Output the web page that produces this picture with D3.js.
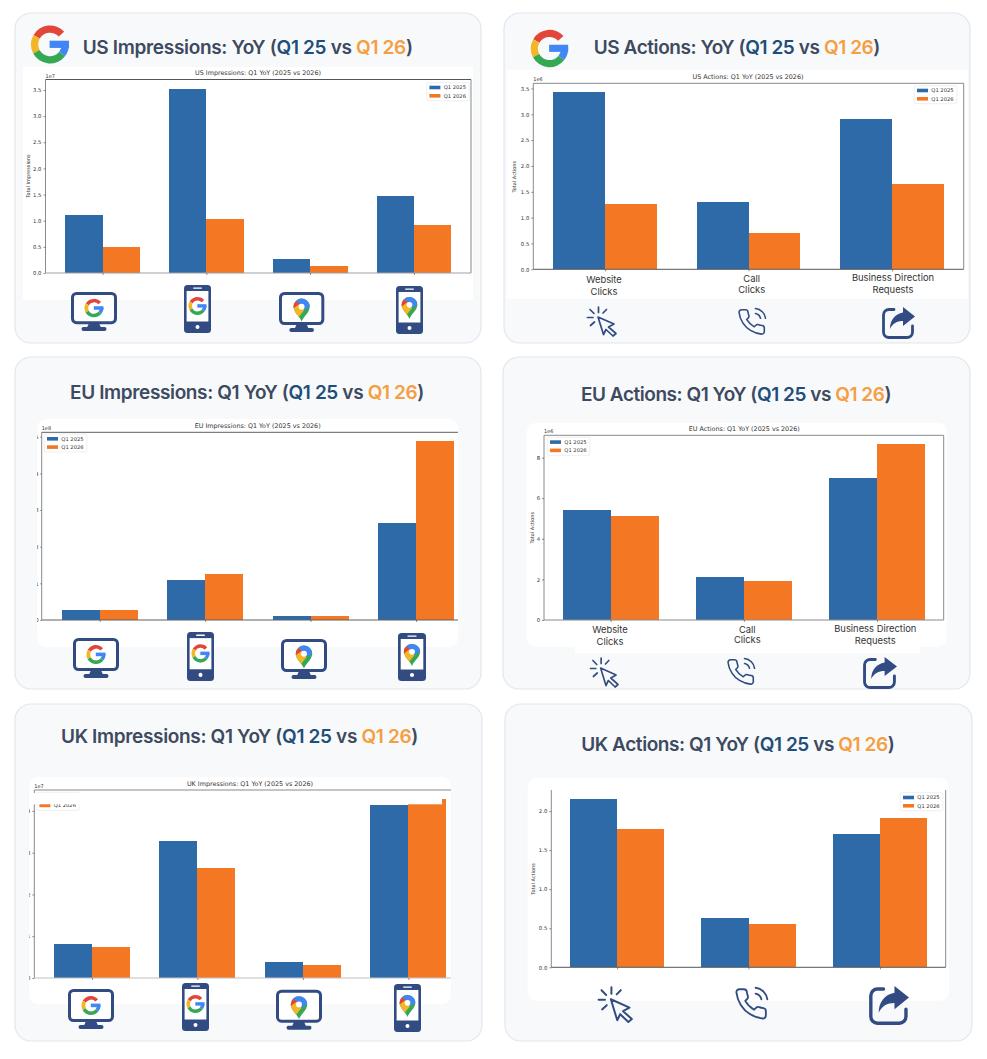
<!DOCTYPE html>
<html><head><meta charset="utf-8">
<script src="https://cdn.jsdelivr.net/npm/d3@7"></script>
<style>html,body{margin:0;padding:0;background:#fff}svg{display:block}</style>
</head><body><svg id="c" width="987" height="1059"></svg>
<script>
// ---- data ----
const seriesNames = ["Q1 2025", "Q1 2026"];
const impressionCategories = ["Desktop Search", "Mobile Search", "Desktop Maps", "Mobile Maps"];
const actionCategories = ["Website Clicks", "Call Clicks", "Business Direction Requests"];
const actionLabels = [["Website", "Clicks"], ["Call", "Clicks"], ["Business Direction", "Requests"]];

const usImp2025 = [1.10e7, 3.52e7, 0.274e7, 1.465e7];
const usImp2026 = [0.49e7, 1.026e7, 0.14e7, 0.925e7];
const usAct2025 = [3.44e6, 1.30e6, 2.91e6];
const usAct2026 = [1.27e6, 0.696e6, 1.645e6];
const euImp2025 = [0.27e8, 1.10e8, 0.11e8, 2.64e8];
const euImp2026 = [0.26e8, 1.25e8, 0.10e8, 4.88e8];
const euAct2025 = [5.44e6, 2.10e6, 6.98e6];
const euAct2026 = [5.12e6, 1.94e6, 8.67e6];
const ukImp2025 = [0.806e7, 3.28e7, 0.383e7, 4.135e7];
const ukImp2026 = [0.742e7, 2.635e7, 0.311e7, 4.29e7];
const ukAct2025 = [2.16e6, 0.637e6, 1.705e6];
const ukAct2026 = [1.77e6, 0.55e6, 1.914e6];

const usImpTicks = [0, .5, 1, 1.5, 2, 2.5, 3, 3.5];
const usActTicks = [0, .5, 1, 1.5, 2, 2.5, 3, 3.5];
const euImpTicks = [0, 1, 2, 3, 4, 5];
const euActTicks = [0, 2, 4, 6, 8];
const ukImpTicks = [0, 1, 2, 3, 4];
const ukActTicks = [0, .5, 1, 1.5, 2];

// ---- styles ----
const BLUE = "#2e6aa7", ORANGE = "#f47724", NAVY = "#324b82";
const INK = "#3d4a5f", Q25 = "#1f4e79", Q26 = "#f59e42";

// ---- layouts ----
const panels = [
 {card:[15,13,466,330], head:["US Impressions: YoY (", 82.7, 412.7, 54], white:[23,67,450,233,0],
  plot:[45.5,471,79.5,273], pad:.55, yMax:3.70, unit:1e7, off:"1e7", dec:1, ticks:usImpTicks,
  a:usImp2025, b:usImp2026, cats:impressionCategories, title:"US Impressions: Q1 YoY (2025 vs 2026)", titleAt:[258,73],
  ylabel:"Total Impressions", ylabelAt:[28.3,176], legend:[426.7,82.7], spines:"tlrb", tick:[2,2], topC:"#555", botC:"#a0a0a0",
  logo:[50,44.5,19],
  icons:[["mg",71,292,117,331],["pg",184,285,211,333],["mm",279,292,324.3,332],["pm",396,286,423,334]]},
 {card:[504,13,466,330], head:["US Actions: YoY (", 593.7, 880, 54], white:[507,70,461,229,0],
  plot:[533.3,963.7,83.3,269.3], pad:.5, yMax:3.6, unit:1e6, off:"1e6", dec:1, ticks:usActTicks,
  a:usAct2025, b:usAct2026, cats:actionCategories, title:"US Actions: Q1 YoY (2025 vs 2026)", titleAt:[748,77],
  ylabel:"Total Actions", ylabelAt:[514,176.7], legend:[914.3,85.7], spines:"tlrb", tick:[2,2], topC:"#8a8a8a", botC:"#555",
  labels:[[604,280,292],[751.7,279,290],[893,278,290]], logo:[549.5,48.5,18.7],
  icons:[["click",587,306,617,336],["call",737,308,767,337],["share",882,307,915,339]]},
 {card:[15,357,466,332], head:["EU Impressions: Q1 YoY (", 70, 424, 399], white:[37,419,421,228,9],
  plot:[41.7,474,432.3,620], pad:.55, yMax:5.12, unit:1e8, off:"1e8", dec:0, ticks:euImpTicks,
  a:euImp2025, b:euImp2026, cats:impressionCategories, title:"EU Impressions: Q1 YoY (2025 vs 2026)", titleAt:[257.7,426],
  legend:[44.3,434], spines:"tlb", tick:[1.5,1.5], topC:"#606060", botC:"#606060",
  icons:[["mg",73,638,119,678],["pg",187,632,214,681],["mm",281,639,327,679],["pm",398,633,426,681]]},
 {card:[503,357,467,332], head:["EU Actions: Q1 YoY (", 581, 891, 400.7], white:[526.7,422.7,420,224,9], strip:[575,640,345,13],
  plot:[544,943.7,435.3,620], pad:.5, yMax:9.1, unit:1e6, off:"1e6", dec:0, ticks:euActTicks,
  a:euAct2025, b:euAct2026, cats:actionCategories, title:"EU Actions: Q1 YoY (2025 vs 2026)", titleAt:[744.3,429],
  ylabel:"Total Actions", ylabelAt:[532.3,527.7], legend:[547.3,437.3], spines:"tlrb", tick:[2,2], topC:"#8a8a8a", botC:"#8a8a8a",
  labels:[[610,629.7,641.7],[747.3,629.3,640],[875.3,628.3,640.3]],
  icons:[["click",590,657,619,687],["call",726,658,756,687],["share",863,657,897,689]]},
 {card:[15,704,467,337], head:["UK Impressions: Q1 YoY (", 61, 418, 742.7], white:[29,777.3,422,226.7,9],
  plot:[34.3,466,790,978], pad:.547, yMax:4.5, unit:1e7, off:"1e7", dec:0, ticks:ukImpTicks,
  a:ukImp2025, b:ukImp2026, cats:impressionCategories, title:"UK Impressions: Q1 YoY (2025 vs 2026)", titleAt:[250,784],
  legend:[36.7,792.3], spines:"tlb", tick:[2,2], topC:"#8a8a8a", botC:"#c0c0c0", patch:[29,793,413,11.3],
  icons:[["mg",68,989,114,1029],["pg",182,983,209,1031],["mm",276,989.7,322,1029.7],["pm",394,984,421,1032]]},
 {card:[505,704,467,337], head:["UK Actions: Q1 YoY (", 581.3, 894.3, 750.7], white:[527.7,778,421.3,222.7,9],
  plot:[551.3,945.7,790,967.3], pad:.5, yMax:2.27, unit:1e6, dec:1, ticks:ukActTicks,
  a:ukAct2025, b:ukAct2026, cats:actionCategories,
  ylabel:"Total Actions", ylabelAt:[533,879], legend:[900.3,792.7], spines:"lrb", tick:[2,2], botC:"#555",
  icons:[["click",598,986,633,1022],["call",734,987,769,1022],["share",869,986,909,1025]]}
];

const svg = d3.select("#c");
const rad = d => d * Math.PI / 180;

function gLogo(g, cx, cy, r) {
  const a = d3.arc().innerRadius(r * .62).outerRadius(r);
  const o = g.append("g").attr("transform", `translate(${cx},${cy})`);
  [["#e2453a",-60,48],["#f4b627",-118,-60],["#34a853",128,242],["#4285f4",90,128]].forEach(([c,s,e]) => {
    o.append("path").attr("fill", c).attr("d", a({startAngle:rad(s), endAngle:rad(e)}));
  });
  o.append("rect").attr("x", -.02*r).attr("y", -.2*r).attr("width", r*1.02).attr("height", .38*r).attr("fill", "#4285f4");
}
function pin(g, cx, cy, h) {
  const k = h / 28;
  const o = g.append("g").attr("transform", `translate(${cx-10*k},${cy-14*k}) scale(${k})`);
  o.append("path").attr("fill","#34a853").attr("d","M10 28C8 22 0 17 0 10A10 10 0 0 1 20 10C20 17 12 22 10 28Z");
  o.append("path").attr("fill","#f4b627").attr("d","M0 10C0 14 3 18 6.5 22.5L15.5 11L3 3Z");
  o.append("path").attr("fill","#e2453a").attr("d","M3 3A10 10 0 0 0 0 10V12L8 6Z");
  o.append("path").attr("fill","#4285f4").attr("d","M3 3A10 10 0 0 1 20 10L13 14L7 6Z");
  o.append("circle").attr("cx",10).attr("cy",10).attr("r",3.6).attr("fill","#fff");
}
function monitor(g, kind) {
  g.append("rect").attr("x",1.5).attr("y",1.5).attr("width",43).attr("height",30).attr("rx",4)
    .attr("fill","#fff").attr("stroke",NAVY).attr("stroke-width",3);
  g.append("path").attr("fill",NAVY).attr("d","M18 32H28L30 36.5H16Z");
  g.append("rect").attr("x",10.5).attr("y",36).attr("width",25).attr("height",4).attr("rx",2).attr("fill",NAVY);
  if (kind === "g") gLogo(g, 23, 16.5, 9.5); else pin(g, 23, 18, 23);
}
function phone(g, kind) {
  g.append("rect").attr("width",27).attr("height",48).attr("rx",3.5).attr("fill",NAVY);
  g.append("rect").attr("x",2.6).attr("y",6).attr("width",21.8).attr("height",30.5).attr("fill","#fff");
  g.append("rect").attr("x",9).attr("y",2.4).attr("width",9).attr("height",1.4).attr("rx",.7).attr("fill","#fff");
  g.append("circle").attr("cx",13.5).attr("cy",42).attr("r",2).attr("fill","#fff");
  if (kind === "g") gLogo(g, 13.5, 21, 9); else pin(g, 13.5, 22, 22);
}
const iconBox = {mg:[46,40], mm:[46,40], pg:[27,48], pm:[27,48], click:[30,30], call:[30,29], share:[33,32]};
function icon(name, x0, y0, x1, y1) {
  const [w, h] = iconBox[name];
  const g = svg.append("g").attr("transform", `translate(${x0},${y0}) scale(${(x1-x0)/w},${(y1-y0)/h})`);
  if (name === "mg") monitor(g, "g");
  if (name === "mm") monitor(g, "m");
  if (name === "pg") phone(g, "g");
  if (name === "pm") phone(g, "m");
  if (name === "click") {
    g.append("path").attr("fill","none").attr("stroke",NAVY).attr("stroke-width",1.7).attr("stroke-linejoin","round")
      .attr("d","M11 11L27 18L21.5 21L29 27.5L26 30L19 23.5L16.5 28.5Z");
    g.append("path").attr("fill","none").attr("stroke",NAVY).attr("stroke-width",1.7).attr("stroke-linecap","round")
      .attr("d","M11.5 1V6.5M3 3.5L7 7.5M.5 11.5H6M3.5 19.5L7.5 16M19.5 3.5L16 7");
  }
  if (name === "call") {
    g.append("g").attr("transform","scale(1.27,1.22) translate(-.5,-.5)").append("path").attr("fill","none").attr("stroke",NAVY)
      .attr("stroke-width",1.25).attr("stroke-linecap","round").attr("stroke-linejoin","round")
      .attr("d","M15.05 5A5 5 0 0 1 19 8.95M15.05 1A9 9 0 0 1 23 8.94m-1 7.98v3a2 2 0 0 1-2.18 2 19.79 19.79 0 0 1-8.63-3.07 19.5 19.5 0 0 1-6-6 19.79 19.79 0 0 1-3.07-8.67A2 2 0 0 1 4.11 2h3a2 2 0 0 1 2 1.72 12.84 12.84 0 0 0 .7 2.81 2 2 0 0 1-.45 2.11L8.09 9.91a16 16 0 0 0 6 6l1.27-1.27a2 2 0 0 1 2.11-.45 12.84 12.84 0 0 0 2.81.7A2 2 0 0 1 22 16.92z");
  }
  if (name === "share") {
    g.append("path").attr("fill","none").attr("stroke",NAVY).attr("stroke-width",2.8).attr("stroke-linecap","round")
      .attr("d","M12 2.5H7A5.5 5.5 0 0 0 1.5 8V25A5.5 5.5 0 0 0 7 30.5H25A5.5 5.5 0 0 0 30.5 25V19");
    g.append("path").attr("fill",NAVY).attr("d","M21 0L33 9.5L21 19V14C15 14 10.5 16.5 8 22C8 13 13 7 21 5.5Z");
  }
}

panels.forEach((p, i) => {
  const [cx, cy, cw, ch] = p.card;
  svg.append("rect").attr("x",cx).attr("y",cy).attr("width",cw).attr("height",ch).attr("rx",16)
    .attr("fill","#f8f9fb").attr("stroke","#e2e6ee").attr("stroke-width",1.2);

  // heading
  const [lead, hx0, hx1, hy] = p.head;
  const ht = svg.append("text").attr("x",hx0).attr("y",hy).attr("font-family","Inter, sans-serif")
    .attr("font-size",19).attr("font-weight",600).attr("fill",INK);
  ht.append("tspan").text(lead);
  ht.append("tspan").attr("fill",Q25).text("Q1 25");
  ht.append("tspan").text(" vs ");
  ht.append("tspan").attr("fill",Q26).text("Q1 26");
  ht.append("tspan").text(")");
  const full = ht.text();
  ht.attr("letter-spacing", ((hx1-hx0) - ht.node().getComputedTextLength()) / full.length);

  if (p.logo) gLogo(svg, ...p.logo);

  // white chart image
  const [wx, wy, ww, wh, wr] = p.white;
  svg.append("rect").attr("x",wx).attr("y",wy).attr("width",ww).attr("height",wh).attr("rx",wr).attr("fill","#fff");
  if (p.strip) svg.append("rect").attr("x",p.strip[0]).attr("y",p.strip[1]).attr("width",p.strip[2]).attr("height",p.strip[3]).attr("fill","#fff");
  const clipId = "clip" + i;
  svg.append("clipPath").attr("id",clipId).append("rect").attr("x",wx).attr("y",wy).attr("width",ww).attr("height",wh);
  const g = svg.append("g").attr("clip-path",`url(#${clipId})`);

  const [L, R, T, B] = p.plot, n = p.cats.length;
  const x = d3.scaleLinear().domain([-p.pad, n - 1 + p.pad]).range([L, R]);
  const y = d3.scaleLinear().domain([0, p.yMax * p.unit]).range([B, T]);
  const halfW = .36;

  [[p.a, BLUE, 0], [p.b, ORANGE, 1]].forEach(([vals, col, s]) => {
    g.append("g").attr("shape-rendering","crispEdges").selectAll("rect").data(vals).join("rect")
      .attr("x", (d, k) => x(k - (s === 0 ? halfW : 0)))
      .attr("width", x(halfW) - x(0))
      .attr("y", d => y(d)).attr("height", d => B - y(d)).attr("fill", col);
  });

  // spines
  const sp = {t:[L,T,R,T,p.topC], b:[L,B,R,B,p.botC], l:[L,T,L,B,"#8a8a8a"], r:[R,T,R,B,"#8a8a8a"]};
  [...p.spines].forEach(k => g.append("line").attr("x1",sp[k][0]).attr("y1",sp[k][1]).attr("x2",sp[k][2]).attr("y2",sp[k][3])
    .attr("stroke", sp[k][4]).attr("stroke-width",1));

  // axes
  const yAxis = g.append("g").attr("transform",`translate(${L},0)`)
    .call(d3.axisLeft(y).tickValues(p.ticks.map(t => t * p.unit)).tickSize(p.tick[0]).tickPadding(p.tick[1])
      .tickFormat(d => (d / p.unit).toFixed(p.dec)));
  const xAxis = g.append("g").attr("transform",`translate(0,${B})`)
    .call(d3.axisBottom(x).tickValues(d3.range(n)).tickSize(2).tickFormat(""));
  [yAxis, xAxis].forEach(a => {
    a.select(".domain").remove();
    a.selectAll("line").attr("stroke","#444").attr("stroke-width",.6);
    a.selectAll("text").attr("font-family","DejaVu Sans").attr("font-size",5.3).attr("fill","#333");
  });

  const small = (sel, size) => sel.attr("font-family","DejaVu Sans").attr("font-size",size).attr("fill","#333");
  if (p.off) small(g.append("text").attr("x",L).attr("y",T-2).text(p.off), 5);
  if (p.title) small(g.append("text").attr("x",p.titleAt[0]).attr("y",p.titleAt[1]+2.2).attr("text-anchor","middle").text(p.title), 6.4);
  if (p.ylabel) small(g.append("text").attr("transform",`translate(${p.ylabelAt[0]},${p.ylabelAt[1]}) rotate(-90)`)
    .attr("text-anchor","middle").attr("dy","0.32em").text(p.ylabel), 5);

  // legend
  const [lx, ly] = p.legend;
  const lg = g.append("g").attr("transform",`translate(${lx},${ly})`);
  lg.append("rect").attr("width",42.5).attr("height",18).attr("rx",1).attr("fill","#fff").attr("stroke","#e4e4e4").attr("stroke-width",.6);
  seriesNames.forEach((s, k) => {
    lg.append("rect").attr("x",2.7).attr("y",3 + k*8.3).attr("width",11).attr("height",3.6).attr("fill",k ? ORANGE : BLUE);
    small(lg.append("text").attr("x",17).attr("y",6.8 + k*8.3).text(s), 5.2);
  });

  // white cover that hides the top of the UK legend
  if (p.patch) g.append("rect").attr("x",p.patch[0]).attr("y",p.patch[1]).attr("width",p.patch[2]).attr("height",p.patch[3]).attr("fill","#fff");

  if (p.labels) p.labels.forEach((l, k) => {
    actionLabels[k].forEach((line, j) => {
      svg.append("text").attr("x",l[0]).attr("y",l[1+j]+3.3).attr("text-anchor","middle")
        .attr("font-family","Inter, sans-serif").attr("font-size",9.4).attr("fill","#333").text(line);
    });
  });

  p.icons.forEach(ic => icon(...ic));
});
</script></body></html>
